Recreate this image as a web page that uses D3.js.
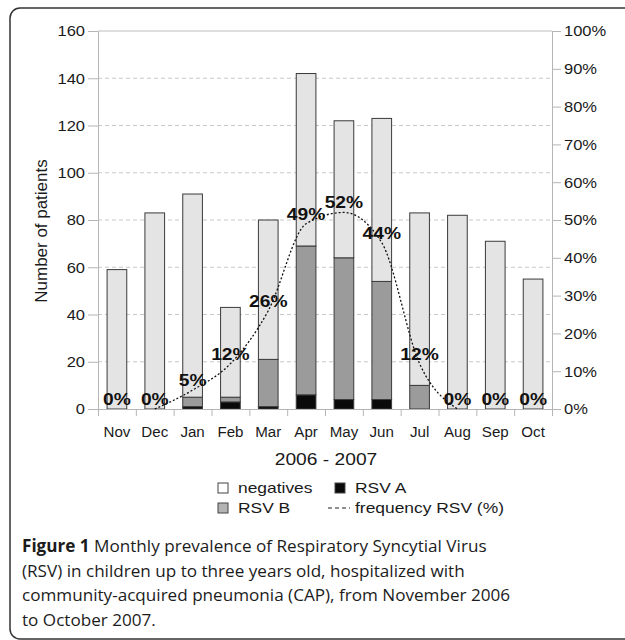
<!DOCTYPE html>
<html>
<head>
<meta charset="utf-8">
<style>
  body { margin: 0; background: #fff; }
  svg { display: block; }
</style>
</head>
<body>
<script src="https://d3js.org/d3.v7.min.js"></script>
<script>
    // data
    const months = ["Nov", "Dec", "Jan", "Feb", "Mar", "Apr", "May", "Jun", "Jul", "Aug", "Sep", "Oct"];
    const negatives = [59, 83, 86, 38, 59, 73, 58, 69, 73, 82, 71, 55];
    const rsvA = [0, 0, 1, 3, 1, 6, 4, 4, 0, 0, 0, 0];
    const rsvB = [0, 0, 4, 2, 20, 63, 60, 50, 10, 0, 0, 0];
    const freqRSV = [0, 0, 5, 12, 26, 49, 52, 44, 12, 0, 0, 0]; // percent
    const countTicks = [0, 20, 40, 60, 80, 100, 120, 140, 160];
    const pctTicks = [0, 0.1, 0.2, 0.3, 0.4, 0.5, 0.6, 0.7, 0.8, 0.9, 1];
    const seriesKeys = ["rsvA", "rsvB", "negatives"];
    const seriesColors = ["#0a0a0a", "#9b9b9b", "#e4e4e4"];
    const legendNames = ["negatives", "RSV A", "RSV B", "frequency RSV (%)"];
    const legendColors = ["#ffffff", "#0a0a0a", "#b4b4b4", null];
    const captionLines = [
        ["Figure 1", " Monthly prevalence of Respiratory Syncytial Virus"],
        ["", "(RSV) in children up to three years old, hospitalized with"],
        ["", "community-acquired pneumonia (CAP), from November 2006"],
        ["", "to October 2007."]
    ];

    const width = 625, height = 640;
    const plotLeft = 98, plotRight = 552, plotTop = 31, plotBottom = 409;
    const font = "'Liberation Sans', Arial, sans-serif";

    const svg = d3.select("body").append("svg")
        .attr("width", width)
        .attr("height", height)
        .style("font-family", font);

    // widen text a little, the original glyphs are stretched
    function stretch(sel, k) {
        sel.each(function () {
            const w = this.getComputedTextLength();
            d3.select(this).attr("textLength", w * k).attr("lengthAdjust", "spacingAndGlyphs");
        });
    }

    // rounded frame round the figure
    svg.append("rect")
        .attr("x", 10).attr("y", 8)
        .attr("width", 700).attr("height", 631)
        .attr("rx", 10)
        .attr("fill", "none")
        .attr("stroke", "#333")
        .attr("stroke-width", 1.5);

    var x = d3.scaleBand()
        .domain(months)
        .range([plotLeft, plotRight])
        .paddingInner(0.48)
        .paddingOuter(0.24);
    var xEdge = d3.scaleLinear().domain([0, months.length]).range([plotLeft, plotRight]);
    var y = d3.scaleLinear().domain([0, 160]).range([plotBottom, plotTop]);
    var y2 = d3.scaleLinear().domain([0, 1]).range([plotBottom, plotTop]);

    // gridlines
    svg.append("g").selectAll("line")
        .data(countTicks.filter(d => d > 0 && d < 160))
        .join("line")
        .attr("x1", plotLeft).attr("x2", plotRight)
        .attr("y1", d => y(d)).attr("y2", d => y(d))
        .attr("stroke", "#c8c8c8")
        .attr("stroke-dasharray", "4,3");
    svg.append("line")
        .attr("x1", plotLeft).attr("x2", plotRight)
        .attr("y1", y(160)).attr("y2", y(160))
        .attr("stroke", "#bdbdbd");

    // stacked bars
    const rows = months.map((m, i) => ({ month: m, rsvA: rsvA[i], rsvB: rsvB[i], negatives: negatives[i] }));
    const stacked = d3.stack().keys(seriesKeys)(rows);

    svg.append("g").selectAll("g")
        .data(stacked)
        .join("g")
        .attr("fill", (d, i) => seriesColors[i])
        .selectAll("rect")
        .data(d => d.filter(s => s[1] > s[0]))
        .join("rect")
        .attr("x", d => x(d.data.month))
        .attr("y", d => y(d[1]))
        .attr("width", x.bandwidth())
        .attr("height", d => y(d[0]) - y(d[1]))
        .attr("stroke", "#3a3a3a")
        .attr("stroke-width", 1);

    // axes
    function styleAxis(g) {
        g.selectAll("path, line").attr("stroke", "#b5b5b5");
        g.selectAll("text").attr("fill", "#1a1a1a").style("font-family", font);
    }

    var yLeft = svg.append("g")
        .attr("transform", "translate(" + plotLeft + ",0)")
        .call(d3.axisLeft(y).tickValues(countTicks).tickSize(10).tickSizeOuter(0).tickPadding(3))
        .call(styleAxis);
    yLeft.selectAll("text").style("font-size", "15px").call(stretch, 1.1);

    var yRight = svg.append("g")
        .attr("transform", "translate(" + plotRight + ",0)")
        .call(d3.axisRight(y2).tickValues(pctTicks).tickFormat(d3.format(".0%")).tickSize(9).tickSizeOuter(0).tickPadding(3))
        .call(styleAxis);
    yRight.selectAll("text").style("font-size", "15px").call(stretch, 1.1);

    svg.append("g")
        .attr("transform", "translate(0," + plotBottom + ")")
        .call(d3.axisBottom(xEdge).tickValues(d3.range(months.length + 1)).tickFormat("").tickSize(7).tickSizeOuter(0))
        .call(styleAxis);

    var xMonths = svg.append("g")
        .attr("transform", "translate(0," + plotBottom + ")")
        .call(d3.axisBottom(x).tickSize(0))
        .call(styleAxis);
    xMonths.select(".domain").remove();
    xMonths.selectAll("text")
        .attr("y", 28).attr("dy", null)
        .style("font-size", "14px")
        .call(stretch, 1.08);

    // frequency line (only the part that rises above zero)
    const nonZero = d3.range(months.length).filter(i => freqRSV[i] > 0);
    const span = d3.range(Math.max(0, nonZero[0] - 1), Math.min(months.length - 1, nonZero[nonZero.length - 1] + 1) + 1);
    const freqLine = d3.line()
        .x(i => x(months[i]) + x.bandwidth() / 2)
        .y(i => y2(freqRSV[i] / 100))
        .curve(d3.curveMonotoneX);
    svg.append("path")
        .datum(span)
        .attr("d", freqLine)
        .attr("fill", "none")
        .attr("stroke", "#111")
        .attr("stroke-width", 1.3)
        .attr("stroke-dasharray", "2,2");

    svg.append("g").selectAll("text")
        .data(freqRSV)
        .join("text")
        .attr("x", (d, i) => x(months[i]) + x.bandwidth() / 2)
        .attr("y", d => y2(d / 100) - 4)
        .attr("text-anchor", "middle")
        .style("font-size", "16px")
        .style("font-weight", "bold")
        .attr("fill", "#111")
        .text(d => d + "%")
        .call(stretch, 1.2);

    // axis titles
    svg.append("text")
        .attr("transform", "translate(47,231) rotate(-90)")
        .attr("text-anchor", "middle")
        .style("font-size", "16px")
        .attr("fill", "#1a1a1a")
        .text("Number of patients")
        .call(stretch, 1.06);

    svg.append("text")
        .attr("x", 326).attr("y", 465)
        .attr("text-anchor", "middle")
        .style("font-size", "16px")
        .attr("fill", "#1a1a1a")
        .text("2006 - 2007")
        .call(stretch, 1.2);

    // legend
    const legendPos = [[218, 488], [335, 488], [218, 508], [335, 508]];
    var lg = svg.append("g").selectAll("g")
        .data(legendNames)
        .join("g")
        .attr("transform", (d, i) => "translate(" + legendPos[i][0] + "," + legendPos[i][1] + ")");
    lg.filter((d, i) => legendColors[i] !== null)
        .append("rect")
        .attr("x", 0).attr("y", -5)
        .attr("width", 10).attr("height", 10)
        .attr("fill", d => legendColors[legendNames.indexOf(d)])
        .attr("stroke", "#444");
    lg.filter((d, i) => legendColors[i] === null)
        .append("line")
        .attr("x1", -7).attr("x2", 15)
        .attr("y1", 0).attr("y2", 0)
        .attr("stroke", "#222")
        .attr("stroke-width", 1.2)
        .attr("stroke-dasharray", "4,3");
    lg.append("text")
        .attr("x", 20).attr("y", 5)
        .style("font-size", "14.5px")
        .attr("fill", "#1a1a1a")
        .text(d => d)
        .call(stretch, 1.2);

    // caption, sized so the first line spans the same width as the original
    const capFont = "'Open Sans', Lato, sans-serif";
    const capX = 22, capFirstBase = 552, capStep = 24.6, capLineWidth = 465;
    var probe = svg.append("text")
        .style("font-family", capFont)
        .style("font-size", "16px");
    probe.append("tspan").style("font-weight", "bold").text(captionLines[0][0]);
    probe.append("tspan").text(captionLines[0][1]);
    const capSize = 16 * capLineWidth / probe.node().getComputedTextLength();
    probe.remove();

    var cap = svg.append("text")
        .style("font-family", capFont)
        .style("font-size", capSize + "px")
        .attr("fill", "#1c1c1c");
    captionLines.forEach((ln, i) => {
        if (ln[0]) {
            cap.append("tspan")
                .attr("x", capX).attr("y", capFirstBase + i * capStep)
                .style("font-weight", "bold")
                .text(ln[0]);
            cap.append("tspan").text(ln[1]);
        } else {
            cap.append("tspan")
                .attr("x", capX).attr("y", capFirstBase + i * capStep)
                .text(ln[1]);
        }
    });
</script>
</body>
</html>
